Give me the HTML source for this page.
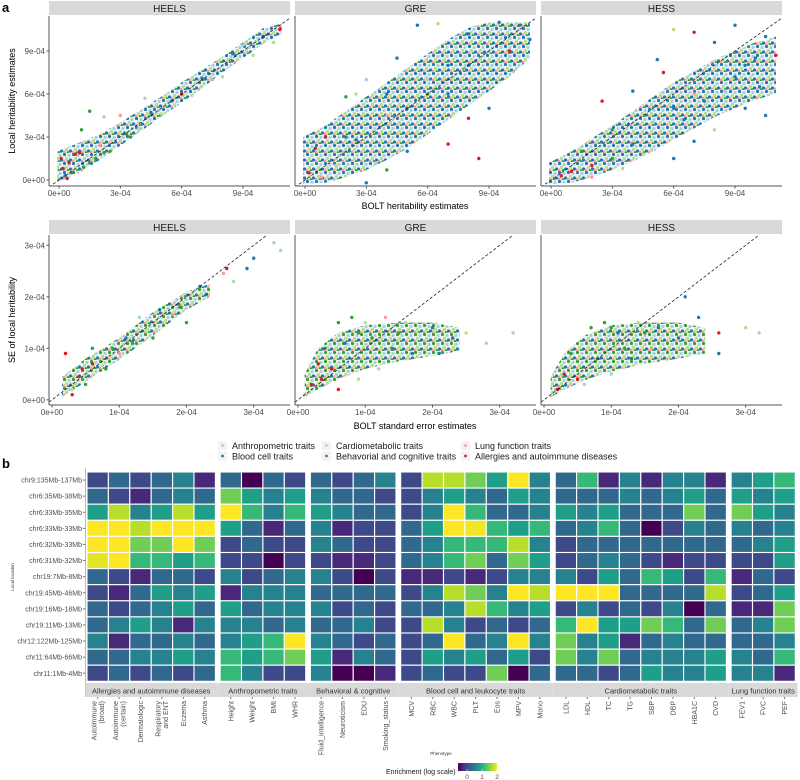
<!DOCTYPE html>
<html><head><meta charset="utf-8"><style>
html,body{margin:0;padding:0;background:#fff;}
svg{display:block;font-family:"Liberation Sans",Arial,sans-serif;}
</style></head><body>
<svg id="fig" width="800" height="780" viewBox="0 0 800 780">
<defs>
<pattern id="patBlue" width="9" height="9" patternUnits="userSpaceOnUse">
<rect width="9" height="9" fill="#eef4f6"/>
<circle cx="1.5" cy="1.5" r="1.6" fill="#1f78b4"/>
<circle cx="6" cy="2.5" r="1.6" fill="#a6cee3"/>
<circle cx="3.5" cy="5.5" r="1.6" fill="#b2df8a"/>
<circle cx="7.5" cy="7" r="1.6" fill="#1f78b4"/>
<circle cx="1" cy="8" r="1.5" fill="#fb9a99"/>
<circle cx="5" cy="8.5" r="1.4" fill="#33a02c"/>
</pattern>
<pattern id="patGreen" width="9" height="9" patternUnits="userSpaceOnUse">
<rect width="9" height="9" fill="#eef4ee"/>
<circle cx="1.5" cy="1.5" r="1.6" fill="#33a02c"/>
<circle cx="6" cy="2.5" r="1.6" fill="#a6cee3"/>
<circle cx="3.5" cy="5.5" r="1.6" fill="#b2df8a"/>
<circle cx="7.5" cy="7" r="1.6" fill="#1f78b4"/>
<circle cx="1" cy="8" r="1.5" fill="#fb9a99"/>
<circle cx="5" cy="8.5" r="1.4" fill="#33a02c"/>
</pattern>
</defs>
</svg>
<script>
// ---------- DATA ----------
const catColors = ["#a6cee3","#1f78b4","#b2df8a","#33a02c","#fb9a99","#e31a1c"];
const catNames = ["Anthropometric traits","Blood cell traits","Cardiometabolic traits","Behavorial and cognitive traits","Lung function traits","Allergies and autoimmune diseases"];
const methods = ["HEELS","GRE","HESS"];
const topTicks = [0,3,6,9];
const topTickLabels = ["0e+00","3e-04","6e-04","9e-04"];
const botTicks = [0,1,2,3];
const botTickLabels = ["0e+00","1e-04","2e-04","3e-04"];
// bands (units of 1e-4): x, lower y, upper y
const heelsTopBandX = [-0.1,1,2,3,4,5,6,7,8,9,10,10.9];
const heelsTopBandLo = [-0.2,0.5,1.4,2.4,3.4,4.4,5.4,6.4,7.5,8.5,9.5,10.2];
const heelsTopBandHi = [2.0,2.6,3.2,4.0,4.9,5.8,6.8,7.7,8.6,9.6,10.6,10.9];
const greTopBandX = [-0.1,1,2,3,4,5,6,7,8,9,10,11];
const greTopBandLo = [-0.3,-0.2,0.2,0.7,1.4,2.2,3.2,4.2,5.2,6.2,7.2,8.5];
const greTopBandHi = [3.0,3.8,4.8,5.8,6.8,7.8,8.8,9.8,10.6,11,11,11];
const hessTopBandX = [-0.1,1,2,3,4,5,6,7,8,9,10,11];
const hessTopBandLo = [-0.3,-0.2,0.2,0.7,1.3,2.0,2.8,3.6,4.4,5.0,5.6,6.0];
const hessTopBandHi = [1.2,2.0,2.9,3.8,4.8,5.8,6.8,7.6,8.4,9.0,9.6,10];
const heelsBotBandX = [0.15,0.5,1,1.5,2,2.35];
const heelsBotBandLo = [0.05,0.35,0.78,1.25,1.75,2.0];
const heelsBotBandHi = [0.45,0.8,1.2,1.7,2.1,2.25];
const greBotBandX = [0.1,0.3,0.6,1,1.5,2,2.4];
const greBotBandLo = [0.05,0.2,0.4,0.6,0.75,0.85,0.95];
const greBotBandHi = [0.5,1.0,1.3,1.45,1.5,1.5,1.4];
const hessBotBandX = [0.1,0.3,0.6,1,1.5,2,2.4];
const hessBotBandLo = [0.05,0.2,0.38,0.55,0.7,0.8,0.9];
const hessBotBandHi = [0.45,0.9,1.25,1.45,1.5,1.5,1.4];
// points [x, y, category]
const heelsTopPts = [[0.1,1.5,5],[0.2,0.8,5],[0.5,1.2,5],[0.8,1.8,5],[1,1.9,5],[0.3,0.3,1],[0.6,0.5,3],[1.2,0.9,3],[1.8,1.5,3],[2.2,1.9,3],[1.1,3.5,3],[1.5,4.8,3],[3,4.5,4],[2.2,4.4,0],[4.2,5.7,0],[3.9,3.6,2],[5,4.6,2],[6.5,5.9,2],[8,7.2,2],[9.5,8.7,2],[10.5,9.6,2],[7,7.1,1],[8.5,8.8,1],[10,10,1],[10.8,10.5,5],[5.5,5.5,1],[2,2.4,4],[4.5,4.7,1],[6,6,5],[9,9.4,0],[3.3,3.2,3],[7.5,7.0,4],[0.4,0.1,5],[1.5,1.2,3],[2.5,2.0,3],[3.5,3.0,3]];
const greTopPts = [[0.2,0.5,5],[0.5,2.2,5],[1,3.0,5],[0.8,0.2,4],[2,5.8,3],[2.5,6,2],[3,7,0],[4.5,8.5,1],[5.5,10.8,1],[6.5,10.9,2],[8,10.2,1],[9.5,11,1],[10.5,10.8,1],[9,5.0,1],[8,4.3,5],[7,2.5,5],[8.5,1.5,5],[5,2,1],[4,0.7,3],[3,-0.2,1],[6,6,3],[7,8,1],[1.5,1.0,2],[2.5,2.8,1],[4,4.5,4],[10,9.0,5],[11,9.8,1],[3.5,1.2,0],[5,5,1],[6,7,0],[7,6,1],[8,8,1],[9,9,0],[2,3,1],[3,3,0],[4,6,1]];
const hessTopPts = [[0.5,0.3,5],[1,0.6,5],[2,1,5],[1.5,2,3],[3,3.5,3],[2.5,5.5,5],[4,6.2,1],[5.2,8.4,1],[6,10.5,2],[7,10.3,5],[8,9.6,1],[9,10.8,1],[10.5,10,1],[11,8.7,5],[10.2,6.5,1],[9.5,5,1],[8,3.5,2],[7,2.7,1],[6,1.5,1],[4.5,1.8,2],[3.5,0.8,2],[5,4,0],[6,5,1],[7,6,4],[8,7,0],[9,7.2,1],[10.5,4.5,1],[2,0.2,4],[4,2.5,1],[5.5,7.5,5],[6.5,4.2,1],[7.5,5.5,1],[8.5,6.2,0],[9.5,8,1],[10,8.5,1],[3,1.5,3]];
const heelsBotPts = [[0.2,0.9,5],[0.3,0.1,5],[0.45,0.6,5],[0.6,0.7,5],[0.4,0.45,5],[0.5,0.3,3],[0.9,1.0,3],[1.2,1.1,3],[1.5,1.2,3],[1.9,1.8,3],[2,1.5,3],[0.8,0.6,3],[0.6,1.0,3],[1.3,1.6,0],[1.6,1.75,1],[2.2,2.2,1],[2.3,2.05,1],[2.6,2.55,5],[2.7,2.3,2],[2.9,2.55,1],[3.0,2.75,1],[3.3,3.05,0],[3.4,2.9,0],[1.0,0.9,4],[1.8,1.65,4],[2.55,2.45,4],[0.3,0.2,2],[1.1,1.2,1]];
const greBotPts = [[0.1,0.1,2],[0.2,0.3,5],[0.3,0.7,5],[0.4,1.0,1],[0.5,0.6,5],[0.6,1.5,3],[0.8,1.6,3],[1.0,1.5,2],[1.3,1.6,4],[1.6,1.5,2],[2,1.4,1],[2.3,1.2,1],[2.5,1.3,2],[2.8,1.1,0],[3.2,1.3,0],[0.9,0.4,2],[1.2,0.6,0],[1.7,0.9,1],[0.35,0.4,5],[0.7,1.1,1],[1.1,1.2,3],[1.4,1.0,1],[0.6,0.2,5],[2.1,0.9,1],[0.9,1.3,3],[1.5,1.3,3]];
const hessBotPts = [[0.2,0.2,5],[0.3,0.5,5],[0.4,0.9,3],[0.5,0.4,5],[0.7,1.4,3],[0.9,1.5,3],[1.1,1.3,1],[1.4,1.5,2],[1.7,1.4,1],[2,1.2,1],[2.3,1.6,1],[2.6,1.3,5],[3,1.4,2],[3.2,1.3,0],[1.0,0.5,0],[1.3,0.8,1],[1.6,1.0,4],[0.6,0.3,2],[0.8,0.8,1],[1.2,1.0,3],[2.1,2.0,1],[2.6,0.9,1],[1.0,1.4,3],[1.5,1.3,3]];

// heatmap
const rowLabels = ["chr9:135Mb-137Mb","chr6:35Mb-38Mb","chr6:33Mb-35Mb","chr6:33Mb-33Mb","chr6:32Mb-33Mb","chr6:31Mb-32Mb","chr19:7Mb-8Mb","chr19:45Mb-46Mb","chr19:16Mb-18Mb","chr19:11Mb-13Mb","chr12:122Mb-125Mb","chr11:64Mb-66Mb","chr11:1Mb-4Mb"];
const groupNames = ["Allergies and autoimmune diseases","Anthropometric traits","Behavioral & cognitive","Blood cell and leukocyte traits","Cardiometabolic traits","Lung function traits"];
const groupCols = [
 [["Autoimmune","(broad)"],["Autoimmune","(certain)"],["Dermatologic"],["Respiratory","and ENT"],["Eczema"],["Asthma"]],
 [["Height"],["Weight"],["BMI"],["WHR"]],
 [["Fluid_intelligence"],["Neuroticism"],["EDU"],["Smoking_status"]],
 [["MCV"],["RBC"],["WBC"],["PLT"],["Eos"],["MPV"],["Mono"]],
 [["LDL"],["HDL"],["TC"],["TG"],["SBP"],["DBP"],["HBA1C"],["CVD"]],
 [["FEV1"],["FVC"],["PEF"]]
];
// enrichment (log scale), one array per row, 32 phenotypes
const enrich = [
 [-0.02,0.27,-0.02,0.27,0.56,-0.31, 0.27,-0.6,0.27,-0.02, 0.27,-0.02,0.27,0.56, -0.02,1.72,1.72,1.43,0.85,2.01,0.56, 0.27,1.14,-0.31,0.56,-0.31,0.56,0.56,-0.31, 0.56,0.85,1.14],
 [0.27,-0.02,-0.31,0.27,0.56,0.27, 1.43,0.85,0.56,0.85, 0.56,0.27,0.27,-0.02, -0.02,0.56,0.85,0.56,0.27,0.85,0.56, 0.27,0.27,0.27,0.56,0.27,0.56,0.85,0.27, 0.85,0.56,0.85],
 [0.85,1.72,0.56,0.85,1.72,0.85, 2.01,1.14,0.56,1.14, 0.85,0.56,0.27,0.27, -0.02,0.56,2.01,1.14,0.27,0.27,0.56, 0.85,0.56,0.85,0.27,0.27,0.27,1.43,0.27, 1.43,0.85,0.56],
 [2.01,2.01,1.72,2.01,2.01,2.01, 0.85,0.27,-0.31,0.27, 0.56,-0.31,-0.02,-0.02, 0.27,0.85,2.01,1.95,1.14,0.85,1.14, 0.27,0.56,1.14,0.27,-0.6,-0.02,0.56,0.27, 0.56,0.27,0.56],
 [2.01,2.01,1.43,1.43,2.01,1.43, -0.02,0.27,-0.02,-0.02, 0.56,0.27,-0.02,-0.02, 0.27,0.56,1.14,1.14,1.14,1.72,0.56, -0.02,0.27,0.27,0.27,0.27,0.27,0.27,0.27, 0.27,0.56,0.85],
 [1.9,2.01,1.14,1.14,0.85,1.14, -0.02,-0.02,-0.6,-0.02, -0.02,-0.31,-0.31,-0.02, 0.27,0.56,1.14,1.43,0.27,1.43,0.85, -0.02,0.27,0.56,0.27,-0.02,-0.31,-0.02,-0.02, -0.02,-0.02,0.85],
 [0.27,-0.02,-0.31,0.27,0.27,-0.02, 0.56,-0.02,0.27,0.56, 0.56,-0.02,-0.6,-0.02, -0.31,-0.31,-0.02,-0.31,-0.02,0.56,0.56, 0.56,-0.02,0.85,0.27,1.14,0.85,-0.02,1.14, -0.31,0.27,-0.02],
 [-0.02,-0.31,0.27,0.85,0.56,0.85, -0.31,0.56,0.56,0.56, 0.27,0.27,0.27,0.27, -0.02,0.56,1.72,1.43,0.56,2.01,1.72, 2.01,2.01,2.01,0.27,0.27,0.27,0.27,1.72, -0.02,0.27,0.85],
 [0.27,-0.02,0.27,0.56,0.85,0.27, 0.85,0.27,0.56,0.56, 0.56,-0.02,0.27,-0.02, 0.27,0.27,0.56,1.72,1.14,0.56,0.85, -0.02,0.56,-0.02,0.27,-0.02,0.56,-0.6,0.27, -0.31,-0.31,1.43],
 [0.27,0.56,0.85,0.56,-0.31,0.56, 0.56,0.56,0.27,0.56, 0.27,0.27,0.56,-0.02, -0.02,1.72,0.56,-0.02,0.27,-0.02,0.27, 1.14,2.01,0.85,0.85,1.43,1.14,0.27,1.43, 0.27,0.56,1.43],
 [0.56,-0.31,0.27,0.27,0.56,0.27, 0.56,0.85,1.14,2.01, 0.56,0.27,-0.02,0.27, -0.02,0.27,2.01,0.27,0.56,2.01,0.56, 1.43,0.56,0.85,-0.31,0.27,0.56,0.27,0.27, 0.27,0.27,0.56],
 [0.27,0.27,0.56,0.56,0.85,0.56, 1.14,0.85,1.14,1.43, 0.85,-0.31,0.56,0.27, -0.02,0.85,0.56,0.85,0.27,0.85,-0.02, 1.43,0.56,1.43,0.27,0.56,0.56,0.56,0.85, 0.56,0.27,1.14],
 [-0.02,0.27,-0.02,0.27,-0.02,0.27, 1.14,0.56,-0.02,-0.02, 0.56,-0.6,-0.6,-0.31, -0.02,0.27,-0.02,-0.02,1.43,-0.6,0.27, 0.27,0.27,-0.02,0.27,0.85,0.56,0.56,0.85, 0.56,0.56,-0.31]
];
const legendTicks = [0,1,2];

// ---------- HELPERS ----------
const NS = "http://www.w3.org/2000/svg";
const svg = document.getElementById("fig");
function mk(tag, attrs, parent, text){
  const e = document.createElementNS(NS, tag);
  for (const k in attrs) e.setAttribute(k, attrs[k]);
  if (text !== undefined) e.textContent = text;
  (parent || svg).appendChild(e);
  return e;
}
const viridisStops = ["#440154","#482878","#3e4989","#31688e","#26828e","#1f9e89","#35b779","#6ece58","#b5de2b","#fde725"];
function hex2rgb(h){return [parseInt(h.slice(1,3),16),parseInt(h.slice(3,5),16),parseInt(h.slice(5,7),16)];}
function viridis(t){
  t = Math.max(0, Math.min(1, t));
  const p = t*(viridisStops.length-1), i = Math.min(Math.floor(p), viridisStops.length-2), f = p-i;
  const a = hex2rgb(viridisStops[i]), b = hex2rgb(viridisStops[i+1]);
  return "rgb("+a.map((v,k)=>Math.round(v+(b[k]-v)*f)).join(",")+")";
}
const vMin = -0.6, vMax = 2.0;

// ---------- PANEL LABELS ----------
let t = mk("text",{x:2,y:12,"font-size":13,"font-weight":"bold",fill:"#000"},svg,"a");
 
t = mk("text",{x:2,y:468,"font-size":13,"font-weight":"bold",fill:"#000"},svg,"b");
 

// ---------- SCATTER PANELS ----------
const panelX = [49,295,541], panelW = 241;
function scatterPanel(idx, top, band, pts, bandFill){
  const py = top ? 16 : 235, ph = 170;
  const stripY = top ? 1 : 220;
  const xmin = top ? -0.49 : -0.045, xmax = top ? 11.3 : 3.54;
  const ymin = top ? -0.42 : -0.1, ymax = top ? 11.44 : 3.2;
  const px = panelX[idx];
  const sx = v => px + (v - xmin)/(xmax - xmin)*panelW;
  const sy = v => py + ph - (v - ymin)/(ymax - ymin)*ph;
  const g = mk("g",{});
  
  
  const s = mk("rect",{x:px,y:stripY,width:panelW,height:14,fill:"#d9d9d9"},g);
   
  mk("text",{x:px+panelW/2,y:stripY+11,"font-size":10,"text-anchor":"middle",fill:"#1a1a1a"},g,methods[idx]);
  const cid = "clip"+idx+(top?"t":"b");
  const cp = mk("clipPath",{id:cid},g); mk("rect",{x:px,y:py,width:panelW,height:ph},cp);
  const inner = mk("g",{"clip-path":"url(#"+cid+")"},g);
  const [bx,blo,bhi] = band;
  let d = bx.map((x,i)=>(i?"L":"M")+sx(x).toFixed(1)+","+sy(bhi[i]).toFixed(1)).join("");
  for (let i=bx.length-1;i>=0;i--) d += "L"+sx(bx[i]).toFixed(1)+","+sy(blo[i]).toFixed(1);
  const bp = mk("path",{d:d+"Z",fill:bandFill,stroke:"none"},inner);
   
  pts.forEach(p=>{
    const c = mk("circle",{cx:sx(p[0]).toFixed(1),cy:sy(p[1]).toFixed(1),r:1.7,fill:catColors[p[2]]},inner);
     
  });
  const dl = mk("line",{x1:sx(xmin),y1:sy(xmin),x2:sx(xmax),y2:sy(xmax),stroke:"#222","stroke-width":0.8,"stroke-dasharray":"3,2"},inner);
   
  mk("line",{x1:px,y1:py,x2:px,y2:py+ph,stroke:"#555","stroke-width":1},g);
  mk("line",{x1:px,y1:py+ph,x2:px+panelW,y2:py+ph,stroke:"#555","stroke-width":1},g);
  const ticks = top ? topTicks : botTicks, labs = top ? topTickLabels : botTickLabels;
  ticks.forEach((v,i)=>{
    mk("line",{x1:sx(v),y1:py+ph,x2:sx(v),y2:py+ph+2.5,stroke:"#555"},g);
    const tx = mk("text",{x:sx(v),y:py+ph+10,"font-size":8,"text-anchor":"middle",fill:"#4d4d4d"},g,labs[i]);
     
    if (idx===0){
      mk("line",{x1:px-2.5,y1:sy(v),x2:px,y2:sy(v),stroke:"#555"},g);
      const ty = mk("text",{x:px-4,y:sy(v)+3,"font-size":8,"text-anchor":"end",fill:"#4d4d4d"},g,labs[i]);
       
    }
  });
}
scatterPanel(0,true,[heelsTopBandX,heelsTopBandLo,heelsTopBandHi],heelsTopPts,"url(#patBlue)");
scatterPanel(1,true,[greTopBandX,greTopBandLo,greTopBandHi],greTopPts,"url(#patBlue)");
scatterPanel(2,true,[hessTopBandX,hessTopBandLo,hessTopBandHi],hessTopPts,"url(#patBlue)");
scatterPanel(0,false,[heelsBotBandX,heelsBotBandLo,heelsBotBandHi],heelsBotPts,"url(#patGreen)");
scatterPanel(1,false,[greBotBandX,greBotBandLo,greBotBandHi],greBotPts,"url(#patGreen)");
scatterPanel(2,false,[hessBotBandX,hessBotBandLo,hessBotBandHi],hessBotPts,"url(#patGreen)");

t = mk("text",{x:415,y:209,"font-size":9,"text-anchor":"middle",fill:"#000"},svg,"BOLT heritability estimates");
 
t = mk("text",{x:415,y:429,"font-size":9,"text-anchor":"middle",fill:"#000"},svg,"BOLT standard error estimates");
 
t = mk("text",{x:0,y:0,"font-size":9,"text-anchor":"middle",fill:"#000",transform:"translate(15,101) rotate(-90)"},svg,"Local heritability estimates");
 
t = mk("text",{x:0,y:0,"font-size":9,"text-anchor":"middle",fill:"#000",transform:"translate(15,320) rotate(-90)"},svg,"SE of local heritability");
 

// legend
const legX = [222,326,465];
catNames.forEach((n,i)=>{
  const col = Math.floor(i/2), row = i%2;
  const lx = legX[col], ly = 446 + row*10.5;
  const g = mk("g",{});
   
  mk("rect",{x:lx-4,y:ly-5,width:9,height:9,fill:"#f2f2f2"},g);
  mk("circle",{cx:lx+0.5,cy:ly-0.5,r:1.4,fill:catColors[i]},g);
  mk("text",{x:lx+10,y:ly+3,"font-size":9,fill:"#1a1a1a"},g,n);
});

// ---------- HEATMAP ----------
const hmTop = 472, rowH = 16.1, colW = 21.4, gapW = 4.7, hmLeft = 87;
const hm = mk("g",{});
 
mk("line",{x1:85.5,y1:468,x2:85.5,y2:697,stroke:"#bbb","stroke-width":1},hm);
let colIdx = 0, gx = hmLeft;
groupCols.forEach((cols,gi)=>{
  const gStart = gx;
  cols.forEach((lab,ci)=>{
    const cx = gx + ci*colW;
    rowLabels.forEach((r,ri)=>{
      const v = enrich[ri][colIdx];
      const c = mk("rect",{x:cx.toFixed(1),y:(hmTop+ri*rowH).toFixed(1),width:colW,height:rowH,fill:viridis((v-vMin)/(vMax-vMin)),stroke:"#fff","stroke-width":1.1},hm);
       
    });
    const mid = cx + colW/2;
    mk("line",{x1:mid,y1:697,x2:mid,y2:699,stroke:"#777"},hm);
    lab.forEach((ln,li)=>{
      const off = (li - (lab.length-1)/2)*7.5;
      const tl = mk("text",{x:0,y:0,"font-size":7,"text-anchor":"end",fill:"#4d4d4d",transform:"translate("+(mid+2.5+off).toFixed(1)+",701) rotate(-90)"},hm,ln);
       
    });
    colIdx++;
  });
  const gw = cols.length*colW;
  const sr = mk("rect",{x:gStart-(gi===0?1.5:2.3),y:683,width:gw+(gi===0?3.8:4.6),height:14,fill:"#d9d9d9"},hm);
   
  mk("text",{x:gStart+gw/2,y:693.5,"font-size":7.5,"text-anchor":"middle",fill:"#333"},hm,groupNames[gi]);
  gx += gw + gapW;
});
rowLabels.forEach((r,ri)=>{
  const y = hmTop + ri*rowH + rowH/2;
  mk("line",{x1:83,y1:y,x2:85.5,y2:y,stroke:"#777"},hm);
  const rl = mk("text",{x:82,y:y+2.5,"font-size":7,"text-anchor":"end",fill:"#4d4d4d"},hm,r);
   
});
t = mk("text",{x:0,y:0,"font-size":4.5,"text-anchor":"middle",fill:"#333",transform:"translate(14,577) rotate(-90)"},svg,"Local location");
 
t = mk("text",{x:441,y:755,"font-size":4.5,"text-anchor":"middle",fill:"#333"},svg,"Phenotype");
 

// colorbar legend
const cb = mk("g",{});
 
mk("text",{x:386,y:774,"font-size":7,fill:"#1a1a1a"},cb,"Enrichment (log scale)");
const cbX0 = 458, cbX1 = 497;
const defs = mk("defs",{},cb);
const lg = mk("linearGradient",{id:"vir",x1:0,x2:1,y1:0,y2:0},defs);
viridisStops.forEach((c,i)=>mk("stop",{offset:(i/(viridisStops.length-1)),"stop-color":c},lg));
mk("rect",{x:cbX0,y:763,width:cbX1-cbX0,height:8,fill:"url(#vir)"},cb);
legendTicks.forEach(v=>{
  const x = cbX0 + (v-vMin)/(vMax-vMin)*(cbX1-cbX0);
  mk("line",{x1:x,y1:769,x2:x,y2:771,stroke:"#fff","stroke-width":0.6},cb);
  mk("text",{x:x,y:779,"font-size":6.5,"text-anchor":"middle",fill:"#4d4d4d"},cb,String(v));
});
</script>
</body></html>
